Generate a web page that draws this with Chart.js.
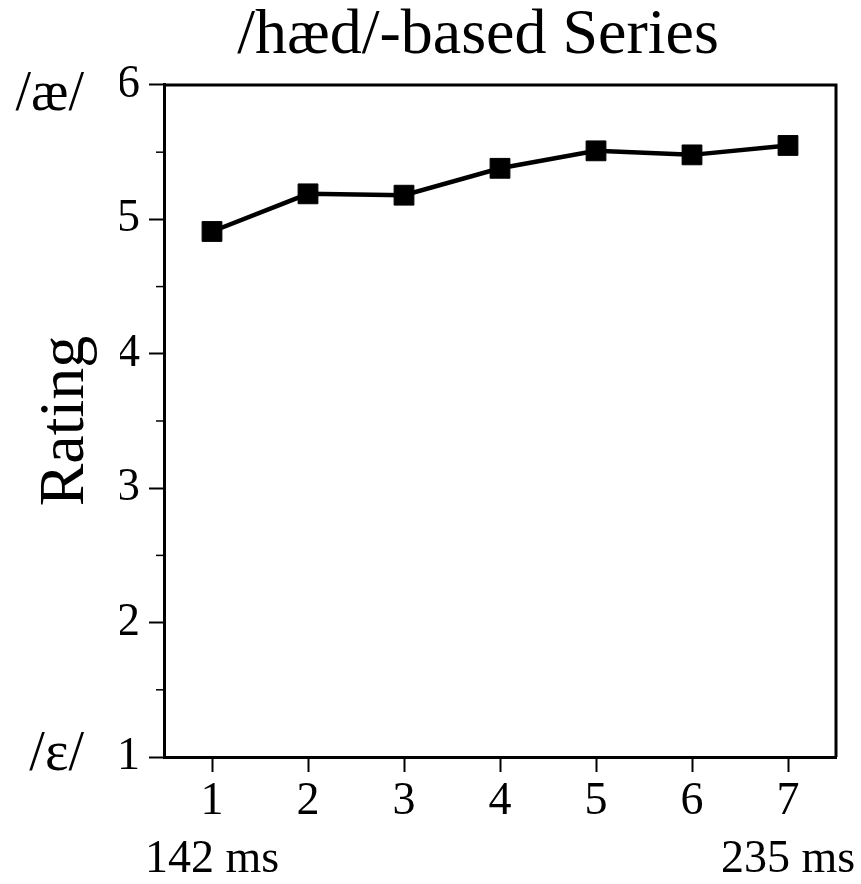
<!DOCTYPE html>
<html>
<head>
<meta charset="utf-8">
<script src="https://cdn.jsdelivr.net/npm/chart.js@4.4.1/dist/chart.umd.min.js"></script>
<style>
  html, body { margin: 0; padding: 0; background: #fff; }
  #wrap { width: 861px; height: 884px; }
</style>
</head>
<body>
<div id="wrap"><canvas id="lineChart"></canvas></div>
<script>
// data
const stimuli = ['1', '2', '3', '4', '5', '6', '7'];
const ratings = [4.91, 5.19, 5.18, 5.38, 5.51, 5.48, 5.55];
const durations = ['142 ms', '', '', '', '', '', '235 ms'];
const vowelLabels = ['/ɛ/', '/æ/'];
const vowelValues = [1, 6];

const serif = 'Liberation Serif, Times New Roman, serif';

// top + right edges of the box, minor ticks and the vowel labels on the y axis
const extras = {
    id: 'extras',
    afterDraw(chart) {
        const ctx = chart.ctx;
        const area = chart.chartArea;
        const y = chart.scales.y;
        ctx.save();
        ctx.strokeStyle = '#000';
        ctx.lineWidth = 3;
        ctx.beginPath();
        ctx.moveTo(area.left, area.top);
        ctx.lineTo(area.right, area.top);
        ctx.lineTo(area.right, area.bottom);
        ctx.stroke();

        // minor ticks half way between the major ones
        ctx.lineWidth = 1.5;
        const ticks = y.ticks.map(t => t.value);
        for (let i = 0; i < ticks.length - 1; i++) {
            const py = y.getPixelForValue((ticks[i] + ticks[i + 1]) / 2);
            ctx.beginPath();
            ctx.moveTo(area.left - 8, py);
            ctx.lineTo(area.left, py);
            ctx.stroke();
        }

        ctx.fillStyle = '#000';
        ctx.font = '56px ' + serif;
        ctx.textAlign = 'right';
        ctx.textBaseline = 'alphabetic';
        vowelLabels.forEach((txt, i) => {
            const py = y.getPixelForValue(vowelValues[i]);
            ctx.fillText(txt, area.left - 80, py + (i === 0 ? 13 : 25));
        });
        ctx.restore();
    }
};

const ctx = document.getElementById('lineChart').getContext('2d');

// left padding is wider than the right one so the title sits over the plot like in the original
const padLeft = 120;

const lineChart = new Chart(ctx, {
    type: 'line',
    data: {
        labels: stimuli,
        datasets: [{
            data: ratings,
            borderColor: '#000',
            borderWidth: 4.5,
            backgroundColor: '#000',
            pointStyle: 'rect',
            pointRadius: 14,
            pointBorderWidth: 1,
            pointBackgroundColor: '#000',
            pointBorderColor: '#000',
            tension: 0
        }]
    },
    options: {
        responsive: true,
        maintainAspectRatio: false,
        animation: false,
        layout: {
            padding: { left: padLeft, right: 25, top: 0, bottom: 0 }
        },
        plugins: {
            legend: { display: false },
            tooltip: { enabled: false },
            title: {
                display: true,
                text: '/hæd/-based Series',
                color: '#000',
                font: { size: 64, family: serif, weight: 'normal', lineHeight: 1.12 },
                padding: { top: 0, bottom: 13.3 }
            }
        },
        scales: {
            x: {
                type: 'category',
                offset: true,
                grid: {
                    offset: false,
                    drawOnChartArea: false,
                    tickLength: 15,
                    tickWidth: 2,
                    tickColor: '#000'
                },
                border: { color: '#000', width: 3 },
                ticks: {
                    color: '#000',
                    padding: 0,
                    maxRotation: 0,
                    autoSkip: false,
                    font: { size: 46, family: serif, lineHeight: 1.28 },
                    callback: (val, i) => durations[i] ? [stimuli[i], durations[i]] : stimuli[i]
                },
                afterFit: (scale) => { scale.height = 127; }
            },
            y: {
                min: 1,
                max: 6,
                grid: {
                    drawOnChartArea: false,
                    tickLength: 15,
                    tickWidth: 2,
                    tickColor: '#000'
                },
                border: { color: '#000', width: 3 },
                ticks: {
                    stepSize: 1,
                    color: '#000',
                    padding: 9,
                    font: { size: 46, family: serif }
                },
                title: {
                    display: true,
                    text: 'Rating',
                    color: '#000',
                    font: { size: 64, family: serif, lineHeight: 1.2 },
                    padding: { top: 66 - padLeft - 38.4, bottom: 0 }
                },
                afterFit: (scale) => { scale.width = 164 - padLeft; }
            }
        }
    },
    plugins: [extras]
});
</script>
</body>
</html>
